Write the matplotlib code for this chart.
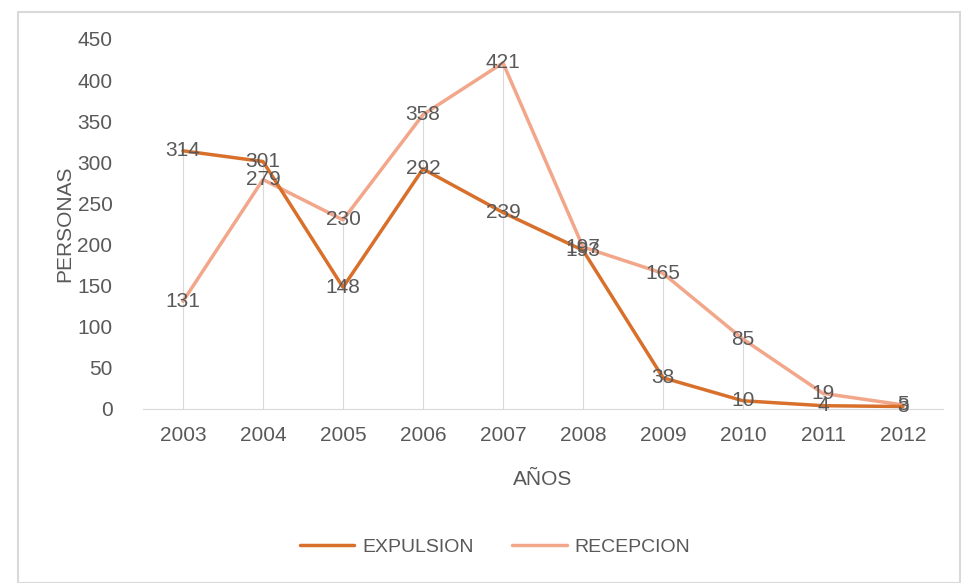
import matplotlib
matplotlib.use("Agg")
import matplotlib.pyplot as plt
from matplotlib.patches import Rectangle

years = ["2003", "2004", "2005", "2006", "2007", "2008", "2009", "2010", "2011", "2012"]
expulsion = [314, 301, 148, 292, 239, 193, 38, 10, 4, 3]
recepcion = [131, 279, 230, 358, 421, 197, 165, 85, 19, 5]

plt.rcParams['font.family'] = ['Liberation Sans', 'DejaVu Sans']
txt = '#595959'
c_exp = '#D8702C'
c_rec = '#F2A68A'
fs = 15

fig = plt.figure(figsize=(9.63, 5.83), dpi=100)
fig.patches.append(Rectangle((18/963, 0), (960-18)/963, (583-12)/583, transform=fig.transFigure,
                             fill=False, edgecolor='#D9D9D9', linewidth=1.5))
ax = fig.add_axes([143/963, 1-409/583, 800/963, 370/583])
x = list(range(len(years)))

# drop lines
for i in x:
    ax.plot([i, i], [0, max(expulsion[i], recepcion[i])], color='#D9D9D9', lw=0.8, zorder=1)

ax.plot(x, recepcion, color=c_rec, lw=2.5, zorder=2, label='RECEPCION', solid_capstyle='round')
ax.plot(x, expulsion, color=c_exp, lw=2.5, zorder=3, label='EXPULSION', solid_capstyle='round')

for i in x:
    ax.text(i, expulsion[i], str(expulsion[i]), ha='center', va='center', fontsize=fs, color=txt, zorder=4)
    ax.text(i, recepcion[i], str(recepcion[i]), ha='center', va='center', fontsize=fs, color=txt, zorder=4)

ax.set_xlim(-0.5, len(years) - 0.5)
ax.set_ylim(0, 450)
ax.set_yticks(range(0, 451, 50))
ax.set_xticks(x)
ax.set_xticklabels(years)
ax.tick_params(axis='both', length=0, labelsize=fs, labelcolor=txt)
ax.tick_params(axis='x', pad=12)
ax.tick_params(axis='y', pad=22)
for s in ['top', 'right', 'left']:
    ax.spines[s].set_visible(False)
ax.spines['bottom'].set_color('#D9D9D9')
ax.set_facecolor('none')

ax.set_xlabel('AÑOS', fontsize=fs, color=txt, labelpad=18)
ax.set_ylabel('PERSONAS', fontsize=fs, color=txt, labelpad=2)

h, l = ax.get_legend_handles_labels()
fig.legend([h[1], h[0]], [l[1], l[0]], loc='center', bbox_to_anchor=(495/963, 1-547/583),
           ncol=2, frameon=False, fontsize=14, labelcolor=txt, handlelength=2.8, columnspacing=2.0,
           handletextpad=0.4)

fig.savefig('out.png', dpi=100)
